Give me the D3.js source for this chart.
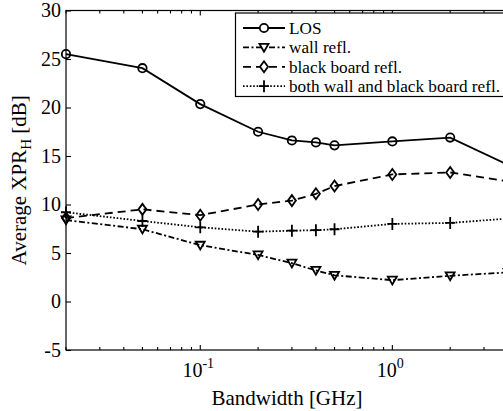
<!DOCTYPE html>
<html>
<head>
<meta charset="utf-8">
<script src="https://cdn.jsdelivr.net/npm/d3@7"></script>
<style>
  html, body { margin: 0; padding: 0; background: #fff; }
  svg { display: block; }
  svg text { font-family: "Liberation Serif", "Times New Roman", Times, "DejaVu Serif", serif; }
</style>
</head>
<body>
<svg id="chart" width="503" height="411"></svg>
<script>
// Bandwidth values (GHz) at which the average XPR was evaluated
const bandwidths = [0.02, 0.05, 0.1, 0.2, 0.3, 0.4, 0.5, 1, 2, 4];

// Average XPR_H in dB for each propagation scenario
const losValues   = [25.5, 24.05, 20.35, 17.5, 16.6, 16.4, 16.1, 16.5, 16.9, 14.1];
const wallValues  = [8.4, 7.45, 5.8, 4.8, 3.95, 3.2, 2.7, 2.2, 2.65, 3.0];
const boardValues = [8.6, 9.5, 8.9, 10.0, 10.4, 11.1, 11.9, 13.1, 13.3, 12.4];
const bothValues  = [9.2, 8.3, 7.65, 7.2, 7.3, 7.35, 7.45, 8.0, 8.1, 8.55];

const seriesNames = ["LOS", "wall refl.", "black board refl.", "both wall and black board refl."];

// Axis ticks
const yTicks = [-5, 0, 5, 10, 15, 20, 25, 30];
const xMajorTicks = [0.1, 1];
const xMajorExponents = ["-1", "0"];
const xMinorTicks = [0.02, 0.03, 0.04, 0.05, 0.06, 0.07, 0.08, 0.09,
                     0.2, 0.3, 0.4, 0.5, 0.6, 0.7, 0.8, 0.9, 2, 3, 4];

const FONT = '"Liberation Serif", "Times New Roman", Times, "DejaVu Serif", serif';

const svg = d3.select("#chart");
const plotLeft = 66, plotRight = 508, plotTop = 10.5, plotBottom = 350;

const x = d3.scaleLog().domain([0.02, 4]).range([plotLeft, plotRight]);
const y = d3.scaleLinear().domain([-5, 30]).range([plotBottom, plotTop]);

// Axes box
const axisColor = "#000";
svg.append("rect")
  .attr("x", plotLeft).attr("y", plotTop)
  .attr("width", plotRight - plotLeft).attr("height", plotBottom - plotTop)
  .attr("fill", "none").attr("stroke", axisColor).attr("stroke-width", 1.2);

// Left axis ticks + labels
const yAxis = d3.axisLeft(y).tickValues(yTicks).tickSize(-5).tickPadding(5)
  .tickFormat(d => String(d));
const gy = svg.append("g").attr("transform", `translate(${plotLeft},0)`).call(yAxis)
  .attr("font-family", FONT).attr("font-size", 20);
gy.select(".domain").remove();
gy.selectAll("line").attr("stroke", axisColor).attr("stroke-width", 1.1);
gy.selectAll("text").attr("fill", "#000");

// Right axis ticks
const gyr = svg.append("g").attr("transform", `translate(${plotRight},0)`)
  .call(d3.axisRight(y).tickValues(yTicks).tickSize(-5).tickFormat(""));
gyr.select(".domain").remove();
gyr.selectAll("line").attr("stroke", axisColor);

// Bottom / top log ticks
function xTicks(yPos, dir) {
  const g = svg.append("g");
  g.selectAll("line.minor").data(xMinorTicks).join("line")
    .attr("x1", d => x(d)).attr("x2", d => x(d))
    .attr("y1", yPos).attr("y2", yPos + dir * 3)
    .attr("stroke", axisColor).attr("stroke-width", 1.1);
  g.selectAll("line.major").data(xMajorTicks).join("line")
    .attr("x1", d => x(d)).attr("x2", d => x(d))
    .attr("y1", yPos).attr("y2", yPos + dir * 5)
    .attr("stroke", axisColor).attr("stroke-width", 1.1);
}
xTicks(plotBottom, -1);
xTicks(plotTop, 1);

// Power-of-ten labels
const xl = svg.append("g").selectAll("text").data(xMajorTicks).join("text")
  .attr("x", d => x(d) - 2).attr("y", 377)
  .attr("text-anchor", "middle").attr("font-family", FONT)
  .attr("font-size", 20).attr("fill", "#000");
xl.append("tspan").text("10");
xl.append("tspan").attr("dy", -9).attr("font-size", 14).text((d, i) => xMajorExponents[i]);

// Axis titles
svg.append("text")
  .attr("x", (plotLeft + plotRight) / 2).attr("y", 405)
  .attr("text-anchor", "middle").attr("font-family", FONT)
  .attr("font-size", 21).attr("fill", "#000")
  .text("Bandwidth [GHz]");

const yl = svg.append("text")
  .attr("transform", `translate(26,${(plotTop + plotBottom) / 2}) rotate(-90)`)
  .attr("text-anchor", "middle").attr("font-family", FONT)
  .attr("font-size", 21).attr("fill", "#000");
yl.append("tspan").text("Average XPR");
yl.append("tspan").attr("dy", 5).attr("font-size", 15).text("H");
yl.append("tspan").attr("dy", -5).text(" [dB]");

// Marker shapes
const markers = {
  circle: g => g.append("circle").attr("r", 4.2),
  triangle: g => g.append("path").attr("d", "M-4.5,-3.5L4.5,-3.5L0,4.3Z"),
  diamond: g => g.append("path").attr("d", "M0,-5.5L4,0L0,5.5L-4,0Z"),
  plus: g => g.append("path").attr("d", "M-5,0L5,0M0,-6L0,6")
};

const series = [
  { name: seriesNames[0], values: losValues,   dash: null,          marker: "circle" },
  { name: seriesNames[1], values: wallValues,  dash: "6,2.5,2,2.5", marker: "triangle" },
  { name: seriesNames[2], values: boardValues, dash: "8,5",         marker: "diamond" },
  { name: seriesNames[3], values: bothValues,  dash: "1.6,1.8",     marker: "plus" }
];

const line = d3.line().x(d => x(d[0])).y(d => y(d[1]));
const lw = 1.8;

series.forEach(s => {
  const pts = bandwidths.map((b, i) => [b, s.values[i]]);
  svg.append("path").datum(pts)
    .attr("d", line).attr("fill", "none").attr("stroke", "#000")
    .attr("stroke-width", lw).attr("stroke-dasharray", s.dash);
  pts.forEach(p => {
    const g = svg.append("g").attr("transform", `translate(${x(p[0])},${y(p[1])})`);
    markers[s.marker](g).attr("fill", "none").attr("stroke", "#000").attr("stroke-width", lw);
  });
});

// Legend
const lg = svg.append("g");
lg.append("rect").attr("x", 235.5).attr("y", 13).attr("width", 269).attr("height", 83.5)
  .attr("fill", "#fff").attr("stroke", "#000").attr("stroke-width", 1.2);
series.forEach((s, i) => {
  const cy = 28 + i * 19.4;
  lg.append("line").attr("x1", 243).attr("x2", 285).attr("y1", cy).attr("y2", cy)
    .attr("stroke", "#000").attr("stroke-width", lw).attr("stroke-dasharray", s.dash);
  const g = lg.append("g").attr("transform", `translate(264,${cy})`);
  markers[s.marker](g).attr("fill", "#fff").attr("stroke", "#000").attr("stroke-width", lw);
  lg.append("text").attr("x", 289).attr("y", cy + 6)
    .attr("font-family", FONT).attr("font-size", 17.2).attr("fill", "#000").text(s.name);
});
</script>
</body>
</html>
